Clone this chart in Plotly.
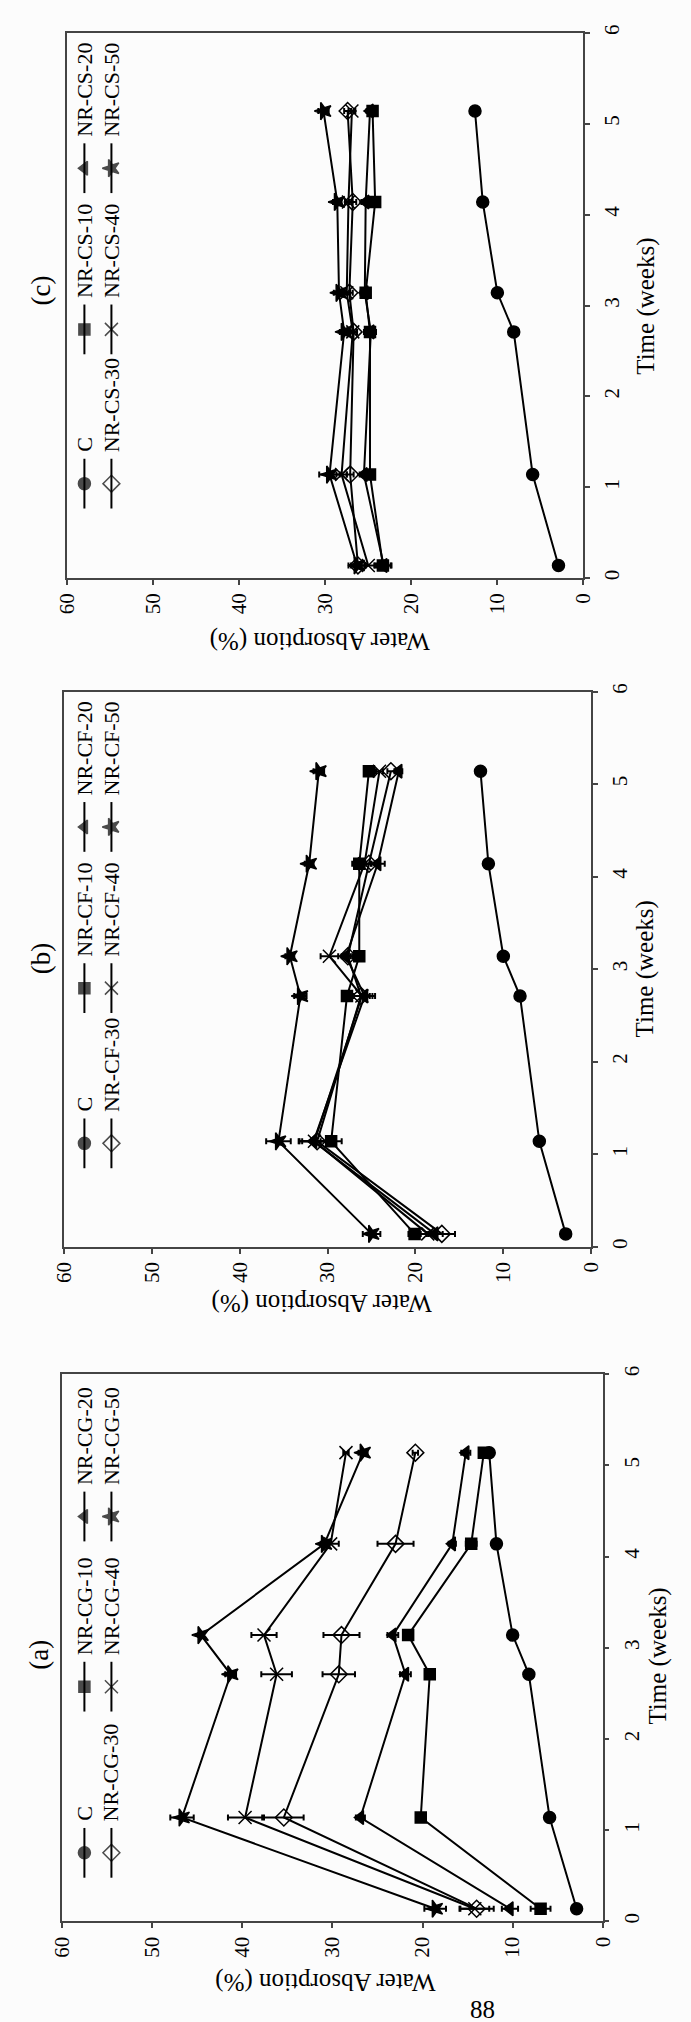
import plotly.graph_objects as go

W, H = 691, 2022
FONT = "Liberation Serif"

# ---------------- data ----------------
time_weeks = [0.14, 1.14, 2.71, 3.14, 4.14, 5.14]

series_names_a = ["C", "NR-CG-10", "NR-CG-20", "NR-CG-30", "NR-CG-40", "NR-CG-50"]
a_C = [2.9, 5.9, 8.2, 10.0, 11.8, 12.6]
a_10 = [6.9, 20.2, 19.2, 21.6, 14.6, 13.2]
a_20 = [10.3, 26.9, 21.9, 23.3, 16.7, 15.2]
a_30 = [14.0, 35.4, 29.3, 29.0, 23.0, 20.8]
a_40 = [14.2, 39.7, 36.2, 37.6, 30.2, 28.5]
a_50 = [18.6, 46.7, 41.3, 44.6, 30.9, 26.6]
a_C_err = [0.3, 0.3, 0.4, 0.3, 0.3, 0.4]
a_10_err = [1.1, 0.4, 0.4, 0.5, 0.6, 0.5]
a_20_err = [0.9, 0.5, 0.6, 0.6, 0.4, 0.5]
a_30_err = [1.9, 2.2, 1.8, 2.0, 2.0, 0.3]
a_40_err = [1.6, 1.9, 1.7, 1.4, 0.9, 0.3]
a_50_err = [1.2, 1.3, 0.6, 0.3, 0.4, 0.5]

series_names_b = ["C", "NR-CF-10", "NR-CF-20", "NR-CF-30", "NR-CF-40", "NR-CF-50"]
b_C = [2.9, 5.9, 8.1, 10.0, 11.7, 12.6]
b_10 = [20.1, 29.6, 27.8, 26.4, 26.4, 25.3]
b_20 = [17.8, 31.6, 25.8, 27.9, 24.3, 21.9]
b_30 = [17.0, 31.2, 26.2, 27.7, 25.3, 22.8]
b_40 = [18.6, 31.5, 26.1, 29.8, 25.8, 24.1]
b_50 = [25.0, 35.6, 33.1, 34.3, 32.1, 31.0]
b_C_err = [0.3, 0.3, 0.4, 0.3, 0.3, 0.3]
b_10_err = [0.7, 1.2, 0.4, 0.5, 0.8, 0.4]
b_20_err = [0.9, 1.7, 1.2, 0.5, 0.8, 0.4]
b_30_err = [1.5, 1.7, 1.0, 0.5, 0.8, 0.4]
b_40_err = [1.0, 1.7, 1.2, 1.0, 0.8, 0.4]
b_50_err = [1.0, 1.4, 0.7, 0.5, 0.5, 0.6]

series_names_c = ["C", "NR-CS-10", "NR-CS-20", "NR-CS-30", "NR-CS-40", "NR-CS-50"]
c_C = [2.9, 5.9, 8.1, 10.0, 11.7, 12.6]
c_10 = [23.3, 24.8, 24.8, 25.3, 24.2, 24.5]
c_20 = [23.2, 25.5, 24.7, 25.4, 25.3, 24.8]
c_30 = [26.2, 27.1, 26.7, 27.2, 26.8, 27.4]
c_40 = [25.0, 28.1, 26.8, 27.5, 27.3, 26.9]
c_50 = [26.3, 29.5, 27.8, 28.4, 28.6, 30.2]
c_C_err = [0.3, 0.3, 0.4, 0.3, 0.3, 0.3]
c_10_err = [1.0, 0.5, 0.7, 0.5, 0.5, 0.4]
c_20_err = [0.8, 0.5, 0.5, 0.5, 0.5, 0.4]
c_30_err = [0.8, 0.4, 0.4, 0.4, 0.4, 0.4]
c_40_err = [0.8, 0.6, 0.4, 0.4, 0.4, 0.4]
c_50_err = [1.0, 1.2, 0.5, 0.6, 0.5, 0.6]

water_ticks = [0, 10, 20, 30, 40, 50, 60]
time_ticks = [0, 1, 2, 3, 4, 5, 6]
panel_labels = ["(c)", "(b)", "(a)"]

# ---------------- styles ----------------
symbols = ["circle", "square", "triangle-left", "diamond-open", "x-thin-open", "star"]
msizes = [12, 11, 12, 13, 13, 13]
angles = [0, 0, 0, 0, 0, -90]

# panel boxes in pixels (left, right, top, bottom), top-to-bottom on page
boxes = [(57, 592, 25, 573), (54, 600, 687, 1245), (52, 612, 1373, 1923)]
panels = [
    (series_names_c, [c_C, c_10, c_20, c_30, c_40, c_50],
     [c_C_err, c_10_err, c_20_err, c_30_err, c_40_err, c_50_err]),
    (series_names_b, [b_C, b_10, b_20, b_30, b_40, b_50],
     [b_C_err, b_10_err, b_20_err, b_30_err, b_40_err, b_50_err]),
    (series_names_a, [a_C, a_10, a_20, a_30, a_40, a_50],
     [a_C_err, a_10_err, a_20_err, a_30_err, a_40_err, a_50_err]),
]
# text placements per panel (pixels)
label_pos = [(30, 284), (30, 955), (28, 1655)]
time_title_pos = [(656, 300), (656, 966), (669, 1656)]
water_title_pos = [(319, 636), (321, 1302), (325, 1984)]
# legend row positions (offset from box top in px) and column x positions
legend_rows = [(453, 298, 136), (454, 298, 136), (481, 314, 143)]
legend_cols = (75, 103)


def fx(x):
    return x / W


def fy(y):
    return 1 - y / H


def note(text, x, y, angle, size, xanchor="center", yanchor="middle"):
    return dict(text=text, x=fx(x), y=fy(y), xref="paper", yref="paper",
                showarrow=False, textangle=angle, xanchor=xanchor, yanchor=yanchor,
                font=dict(size=size, family=FONT, color="black"))


fig = go.Figure()
layout = dict(
    width=W, height=H, margin=dict(l=0, r=0, t=0, b=0),
    paper_bgcolor="#fcfcfc", plot_bgcolor="rgba(0,0,0,0)",
    showlegend=False, font=dict(family=FONT, color="black"),
)
annotations = []

for i, ((names, vals, errs), (L, R, T, B)) in enumerate(zip(panels, boxes)):
    n = i + 1
    xa = "x" if n == 1 else f"x{n}"
    ya = "y" if n == 1 else f"y{n}"
    for k in range(6):
        fig.add_trace(go.Scatter(
            x=vals[k], y=time_weeks, xaxis=xa, yaxis=ya, name=names[k],
            mode="lines+markers",
            line=dict(color="black", width=2),
            marker=dict(symbol=symbols[k], size=msizes[k], color="black",
                        angle=angles[k], line=dict(color="black", width=1.5)),
            error_x=dict(type="data", array=errs[k], color="black",
                         thickness=2, width=3),
            cliponaxis=False,
        ))
    axcommon = dict(showline=True, linecolor="#444", linewidth=1.5, mirror=True,
                    ticks="outside", ticklen=5, tickwidth=1.5, tickcolor="#444",
                    showgrid=False, zeroline=False, tickangle=-90,
                    tickfont=dict(family=FONT, size=21, color="black"))
    layout["xaxis" if n == 1 else f"xaxis{n}"] = dict(
        axcommon, domain=[fx(L), fx(R)], range=[60, 0], tickvals=water_ticks,
        anchor=ya)
    layout["yaxis" if n == 1 else f"yaxis{n}"] = dict(
        axcommon, domain=[fy(B), fy(T)], range=[0, 6], tickvals=time_ticks,
        side="right", anchor=xa, ticklabelstandoff=4)

    annotations.append(note(panel_labels[i], *label_pos[i], -90, 27))
    annotations.append(note("Time (weeks)", *time_title_pos[i], -90, 25))
    annotations.append(note("Water Absorption (%)", *water_title_pos[i], 180, 25))
    # legend
    for k in range(6):
        col = legend_cols[k // 3]
        rowy = T + legend_rows[i][k % 3]
        fig.add_trace(go.Scatter(
            x=[col, col, col], y=[rowy + 25, rowy, rowy - 25], xaxis="x7", yaxis="y7",
            mode="lines+markers", line=dict(color="black", width=2),
            marker=dict(symbol=symbols[k], size=[0, msizes[k], 0], color="black",
                        angle=angles[k], line=dict(color="black", width=1.5)),
            hoverinfo="skip", cliponaxis=False,
        ))
        annotations.append(note(names[k], col, rowy - 30, -90, 22,
                                xanchor="center", yanchor="bottom"))

layout["xaxis7"] = dict(domain=[0, 1], range=[0, W], visible=False, anchor="y7")
layout["yaxis7"] = dict(domain=[0, 1], range=[H, 0], visible=False, anchor="x7")

annotations.append(note("88", 487, 1996, 0, 25, yanchor="top"))
layout["annotations"] = annotations
fig.update_layout(**layout)
fig.write_html("out.html")
